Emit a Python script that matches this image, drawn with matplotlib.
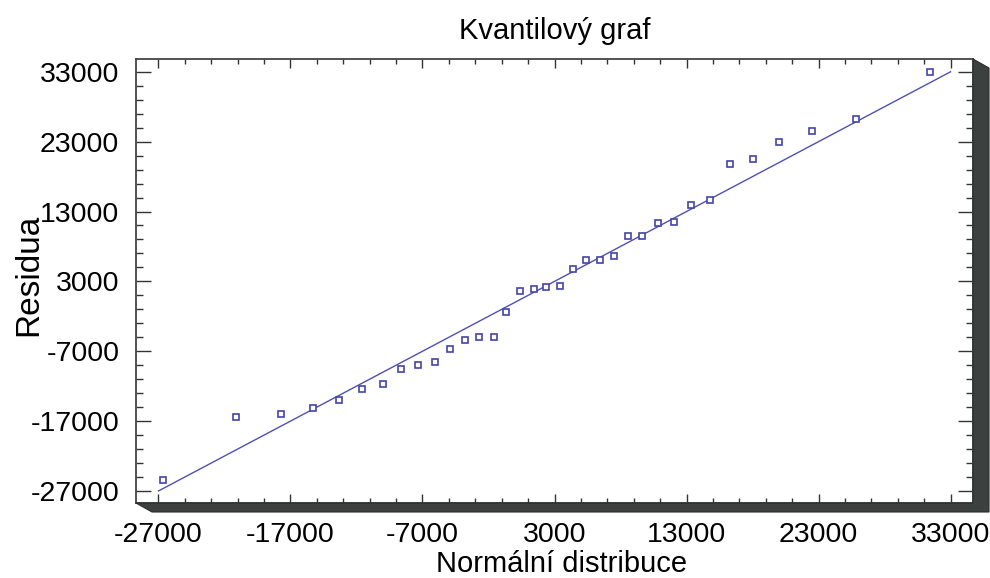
import matplotlib
matplotlib.use("Agg")
import matplotlib.pyplot as plt
from matplotlib.patches import Polygon
from matplotlib.ticker import FixedLocator
import numpy as np

plt.rcParams['font.family'] = ['Liberation Sans', 'DejaVu Sans']

# Data
quantiles = [-26650, -21100, -17730, -15310, -13320, -11580, -10020, -8630, -7340,
             -6040, -4925, -3770, -2730, -1600, -670, 370, 1425, 2355, 3410, 4370,
             5400, 6440, 7470, 8530, 9640, 10850, 12060, 13370, 14750, 16320, 18060,
             20020, 22540, 25840, 31460]
residuals = [-25420, -16440, -15970, -15100, -13920, -12430, -11620, -9560, -8900,
             -8610, -6700, -5360, -5030, -5030, -1350, 1660, 1850, 2190, 2380, 4710,
             6060, 6060, 6580, 9440, 9540, 11300, 11450, 13980, 14660, 19860, 20530,
             22910, 24590, 26260, 33000]
line_x = [-27000, 33000]
line_y = [-27000, 33000]
tick_values = [-27000, -17000, -7000, 3000, 13000, 23000, 33000]

W, H = 990, 578
fig = plt.figure(figsize=(W / 100, H / 100), dpi=100)
L, R, T, B = 136, 973, 59, 503
ax = fig.add_axes([L / W, 1 - B / H, (R - L) / W, (B - T) / H])

# Shadow (3D look)
dx, dy = 16, 9
shadow = Polygon([(L / W, 1 - B / H), (R / W, 1 - B / H), (R / W, 1 - T / H),
                  ((R + dx) / W, 1 - (T + dy) / H), ((R + dx) / W, 1 - (B + dy) / H),
                  ((L + dx) / W, 1 - (B + dy) / H)],
                 closed=True, transform=fig.transFigure, facecolor='#3c4140',
                 edgecolor='#2a2e2d', linewidth=0.8, zorder=0)
fig.patches.append(shadow)

color = '#4444a8'
ax.plot(line_x, line_y, color='#4f4fb4', linewidth=1.0, zorder=2)
ax.plot(quantiles, residuals, linestyle='none', marker='s', markersize=5,
        markerfacecolor='white', markeredgecolor=color, markeredgewidth=1.2, zorder=3)

ax.set_xlim(-28700, 34700)
ax.set_ylim(-28720, 34830)

ax.xaxis.set_major_locator(FixedLocator(tick_values))
ax.yaxis.set_major_locator(FixedLocator(tick_values))
minor = [v for v in np.arange(-27000, 33001, 2000) if v not in tick_values]
ax.xaxis.set_minor_locator(FixedLocator(minor))
ax.yaxis.set_minor_locator(FixedLocator(minor))

ax.set_xticklabels([str(v) for v in tick_values])
ax.set_yticklabels([str(v) for v in tick_values])

tick_color = '#333333'
ax.tick_params(axis='x', which='major', direction='in', length=6.5, width=1.0,
               top=True, bottom=True, color=tick_color, labelsize=20.5, pad=14)
ax.tick_params(axis='x', which='minor', direction='in', length=3.4, width=1.0,
               top=True, bottom=True, color=tick_color)
ax.tick_params(axis='y', which='major', direction='in', length=10.8, width=1.0,
               left=True, right=True, color=tick_color, labelsize=20.5, pad=12)
ax.tick_params(axis='y', which='minor', direction='in', length=5, width=1.0,
               left=True, right=True, color=tick_color)

for s in ax.spines.values():
    s.set_color('#444444')
    s.set_linewidth(1.3)

ax.set_facecolor('white')

# Title and axis labels
fig.text(555 / W, 1 - 39 / H, 'Kvantilový graf', fontsize=21,
         ha='center', va='baseline')
fig.text(562 / W, 1 - 572 / H, 'Normální distribuce', fontsize=21,
         ha='center', va='baseline')
fig.text(37 / W, 1 - 275 / H, 'Residua', fontsize=24,
         ha='center', va='baseline', rotation=90, rotation_mode='anchor')

fig.savefig('out.png', dpi=100)
